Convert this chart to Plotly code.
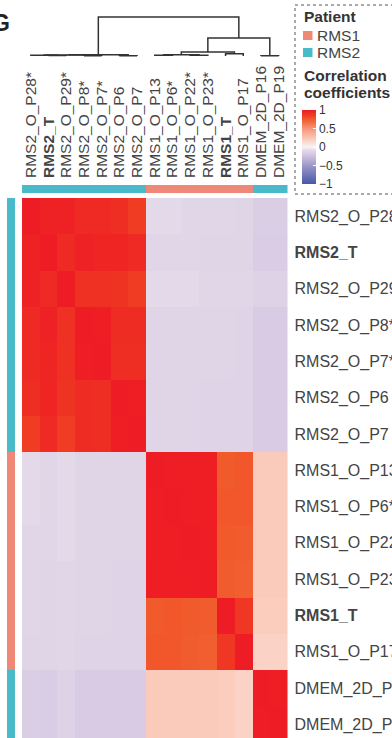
import numpy as np
import plotly.graph_objects as go

# column / row order of the clustered heatmap
labels = ["RMS2_O_P28*", "RMS2_T", "RMS2_O_P29*", "RMS2_O_P8*", "RMS2_O_P7*",
          "RMS2_O_P6", "RMS2_O_P7",
          "RMS1_O_P13", "RMS1_O_P6*", "RMS1_O_P22*", "RMS1_O_P23*", "RMS1_T",
          "RMS1_O_P17",
          "DMEM_2D_P16", "DMEM_2D_P19"]
bold_labels = ["RMS2_T", "RMS1_T"]
patient = ["RMS2"] * 7 + ["RMS1"] * 6 + ["RMS2"] * 2

# correlation blocks
rms2_block = [[1.00, 0.98, 0.98, 0.94, 0.94, 0.92, 0.86],
              [0.98, 1.00, 0.94, 0.98, 0.96, 0.96, 0.94],
              [0.98, 0.94, 1.00, 0.91, 0.91, 0.90, 0.86],
              [0.94, 0.98, 0.91, 1.00, 0.99, 0.93, 0.93],
              [0.94, 0.96, 0.91, 0.99, 1.00, 0.92, 0.92],
              [0.92, 0.96, 0.90, 0.93, 0.92, 1.00, 0.99],
              [0.86, 0.94, 0.86, 0.93, 0.92, 0.99, 1.00]]
rms1_block = [[1.00, 0.99, 0.99, 0.99, 0.75, 0.76],
              [0.99, 1.00, 0.99, 0.99, 0.76, 0.76],
              [0.99, 0.99, 1.00, 0.99, 0.75, 0.74],
              [0.99, 0.99, 0.99, 1.00, 0.74, 0.73],
              [0.75, 0.76, 0.75, 0.74, 1.00, 0.88],
              [0.76, 0.76, 0.74, 0.73, 0.88, 1.00]]
dmem_block = [[1.00, 0.99],
              [0.99, 1.00]]
rms2_vs_rms1 = [[-0.09, -0.09, -0.10, -0.10, -0.10, -0.11],
                [-0.10, -0.10, -0.10, -0.11, -0.11, -0.11],
                [-0.09, -0.09, -0.09, -0.10, -0.10, -0.10],
                [-0.11, -0.11, -0.11, -0.11, -0.11, -0.12],
                [-0.11, -0.11, -0.11, -0.11, -0.11, -0.12],
                [-0.11, -0.11, -0.11, -0.12, -0.12, -0.12],
                [-0.11, -0.11, -0.11, -0.12, -0.12, -0.12]]
rms2_vs_dmem = [[-0.16, -0.16], [-0.17, -0.17], [-0.13, -0.13],
                [-0.18, -0.18], [-0.18, -0.18], [-0.18, -0.18],
                [-0.18, -0.18]]
rms1_vs_dmem = [[0.21, 0.21], [0.21, 0.21], [0.21, 0.21], [0.21, 0.21],
                [0.20, 0.20], [0.17, 0.17]]

# dendrogram merges (left node, right node, height); leaves are 0..14
merges = [(3, 4, 0.008), (5, 6, 0.010), (1, 2, 0.012), (0, 17, 0.018),
          (18, 15, 0.024), (19, 16, 0.032),
          (7, 8, 0.020), (9, 10, 0.020), (21, 22, 0.035), (11, 12, 0.060),
          (23, 24, 0.100),
          (13, 14, 0.010), (25, 26, 0.460), (20, 27, 1.000)]

patient_colors = {"RMS1": "#F08878", "RMS2": "#48BACA"}
font_family = "Liberation Sans, Arial, Helvetica, sans-serif"

a = np.array
corr = np.block([
    [a(rms2_block), a(rms2_vs_rms1), a(rms2_vs_dmem)],
    [a(rms2_vs_rms1).T, a(rms1_block), a(rms1_vs_dmem)],
    [a(rms2_vs_dmem).T, a(rms1_vs_dmem).T, a(dmem_block)],
])
n = len(labels)
idx = list(range(n))

colorscale = [[0.0, "#4758A7"], [0.25, "#9C98C9"], [0.40, "#D6C8E2"],
              [0.45, "#E1D6E8"], [0.50, "#F7F4F6"], [0.60, "#FACDBD"],
              [0.75, "#F6957A"], [0.875, "#F15A2B"], [0.93, "#F03C23"],
              [1.0, "#EE1C24"]]


def tick_text(lbl):
    base = lbl.rstrip("*")
    return "<b>%s</b>" % lbl if base in bold_labels else lbl


W, H = 392, 738
px = lambda v: v / W
py = lambda v: (H - v) / H

x_dom = [px(22), px(287.5)]
rows_shown = (H - 198) / 36.3

fig = go.Figure()

# main heatmap
fig.add_trace(go.Heatmap(
    z=corr, x=idx, y=idx, zmin=-1, zmax=1, colorscale=colorscale,
    xaxis="x", yaxis="y", hoverinfo="skip",
    colorbar=dict(
        x=px(302), xanchor="left", xpad=0, ypad=0,
        y=py(147), yanchor="middle",
        thickness=14, thicknessmode="pixels",
        len=74, lenmode="pixels", outlinewidth=0,
        tickvals=[-1, -0.5, 0, 0.5, 1],
        ticktext=["\u22121", "\u22120.5", "0", "0.5", "1"],
        ticks="inside", ticklen=3, tickcolor="white",
        tickfont=dict(size=12, color="#333333", family=font_family),
    ),
))

codes = [0 if p == "RMS2" else 1 for p in patient]
bar_scale = [[0, patient_colors["RMS2"]], [1, patient_colors["RMS1"]]]

# top annotation bar
fig.add_trace(go.Heatmap(
    z=[codes], x=idx, y=[0], zmin=0, zmax=1, colorscale=bar_scale,
    showscale=False, xaxis="x2", yaxis="y2", hoverinfo="skip"))

# left annotation bar
fig.add_trace(go.Heatmap(
    z=[[c] for c in codes], x=[0], y=idx, zmin=0, zmax=1,
    colorscale=bar_scale, showscale=False, xaxis="x3", yaxis="y3",
    hoverinfo="skip"))

# dendrogram
pos = {i: float(i) for i in range(n)}
hgt = {i: 0.0 for i in range(n)}
dx, dy = [], []
for k, (l, r, h) in enumerate(merges):
    node = n + k
    dx += [pos[l], pos[l], pos[r], pos[r], None]
    dy += [hgt[l], h, h, hgt[r], None]
    pos[node] = (pos[l] + pos[r]) / 2
    hgt[node] = h
fig.add_trace(go.Scatter(
    x=dx, y=dy, mode="lines", line=dict(color="#333333", width=1.5),
    xaxis="x4", yaxis="y4", hoverinfo="skip", showlegend=False))

hidden = dict(showgrid=False, zeroline=False, showticklabels=False,
              ticks="", showline=False, automargin=False)

fig.update_layout(
    width=W, height=H, autosize=False, margin=dict(l=0, r=0, t=0, b=0),
    paper_bgcolor="white", plot_bgcolor="white", showlegend=False,
    font=dict(family=font_family, color="#444444"),
    xaxis=dict(domain=x_dom, range=[-0.5, n - 0.5], anchor="y", **hidden),
    yaxis=dict(domain=[0, py(198)], range=[rows_shown - 0.5, -0.5],
               anchor="x", side="right", tickvals=idx,
               ticktext=[tick_text(l) for l in labels], ticks="",
               ticklabelstandoff=6, showgrid=False, zeroline=False,
               automargin=False,
               tickfont=dict(size=16, color="#444444")),
    xaxis2=dict(domain=x_dom, range=[-0.5, n - 0.5], anchor="y2",
                side="top", tickvals=idx,
                ticktext=[tick_text(l) for l in labels], tickangle=-90,
                ticks="", ticklabelstandoff=6, showgrid=False,
                zeroline=False, automargin=False,
                tickfont=dict(size=15.5, color="#444444")),
    yaxis2=dict(domain=[py(193), py(185)], range=[-0.5, 0.5], anchor="x2",
                **hidden),
    xaxis3=dict(domain=[px(7), px(15)], range=[-0.5, 0.5], anchor="y3",
                **hidden),
    yaxis3=dict(domain=[0, py(198)], range=[rows_shown - 0.5, -0.5],
                anchor="x3", **hidden),
    xaxis4=dict(domain=x_dom, range=[-0.5, n - 0.5], anchor="y4", **hidden),
    yaxis4=dict(domain=[py(57.2), py(15.8)], range=[-0.03, 1.03],
                anchor="x4", **hidden),
)

# legend box, swatches and titles
fig.add_shape(type="rect", xref="paper", yref="paper",
              x0=px(295), x1=px(400), y0=py(194), y1=py(5),
              line=dict(color="#555555", width=1, dash="dot"))
for name, top in [("RMS1", 31), ("RMS2", 48)]:
    fig.add_shape(type="rect", xref="paper", yref="paper",
                  x0=px(303), x1=px(312.5), y0=py(top + 9), y1=py(top),
                  fillcolor=patient_colors[name], line=dict(width=0))
    fig.add_annotation(text=name, x=px(314.5), y=py(top + 4.5),
                       xref="paper", yref="paper", xanchor="left",
                       yanchor="middle", showarrow=False,
                       font=dict(size=15.5, color="#444444"))
for txt, yc in [("<b>Patient</b>", 16), ("<b>Correlation</b>", 75),
                ("<b>coefficients</b>", 93)]:
    fig.add_annotation(text=txt, x=px(302), y=py(yc), xref="paper",
                       yref="paper", xanchor="left", yanchor="middle",
                       showarrow=False,
                       font=dict(size=15.5, color="#333333"))

# panel letter, mostly cut off at the left edge
fig.add_annotation(text="<b>G</b>", x=px(-10), y=py(23), xref="paper",
                   yref="paper", xanchor="left", yanchor="middle",
                   showarrow=False, font=dict(size=23, color="#222222"))

fig.write_html("out.html",
               config={"displayModeBar": False, "responsive": False},
               default_width="392px", default_height="738px",
               post_script="document.body.style.margin='0';"
                           "document.body.style.overflow='hidden';")
